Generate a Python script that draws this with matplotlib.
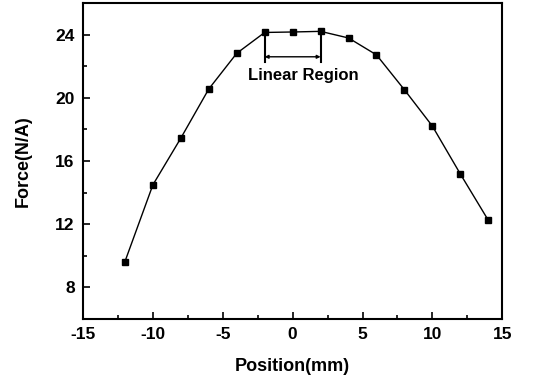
import matplotlib
matplotlib.use("Agg")
import matplotlib.pyplot as plt
from matplotlib.ticker import MultipleLocator

# Force vs. position data
position = [-12, -10, -8, -6, -4, -2, 0, 2, 4, 6, 8, 10, 12, 14]
force = [9.63, 14.49, 17.45, 20.56, 22.82, 24.14, 24.17, 24.21,
         23.79, 22.72, 20.51, 18.21, 15.18, 12.25]
x_ticks = [-15, -10, -5, 0, 5, 10, 15]
y_ticks = [8, 12, 16, 20, 24]
region_bounds = [-2, 2]

plt.rcParams['font.family'] = ['Liberation Sans', 'DejaVu Sans']
plt.rcParams['font.weight'] = 'bold'
plt.rcParams['axes.unicode_minus'] = False

fig = plt.figure(figsize=(5.34, 3.85), dpi=100)
ax = fig.add_axes([0.1554, 0.1714, 0.7852, 0.8206])

ax.plot(position, force, color='black', lw=1.0, marker='s', ms=5.0,
        mec='black', mfc='black')

ax.set_xlim(-15, 15)
ax.set_ylim(6, 26)
ax.set_xticks(x_ticks)
ax.set_yticks(y_ticks)
ax.xaxis.set_minor_locator(MultipleLocator(2.5))
ax.yaxis.set_minor_locator(MultipleLocator(2))
ax.tick_params(which='both', direction='in', top=False, right=False,
               width=1.2, pad=6)
ax.tick_params(which='major', length=5)
ax.tick_params(which='minor', length=3)
tick_font = dict(family=['Liberation Sans Narrow', 'Liberation Sans'],
                 weight='bold', size=12.5)
for lbl in ax.get_xticklabels() + ax.get_yticklabels():
    lbl.set_fontproperties(tick_font)
for sp in ax.spines.values():
    sp.set_linewidth(1.5)

ax.set_xlabel('Position(mm)', fontsize=13, fontweight='bold', labelpad=11)
ax.set_ylabel('Force(N/A)', fontsize=13, fontweight='bold', labelpad=17)

# Linear region marker
for xb in region_bounds:
    ax.plot([xb, xb], [force[position.index(xb)], 22.25], color='black', lw=1.5)
ax.annotate('', xy=(region_bounds[1], 22.6), xytext=(region_bounds[0], 22.6),
            arrowprops=dict(arrowstyle='<|-|>', color='black', lw=1.0,
                            mutation_scale=5, shrinkA=0, shrinkB=0))
ax.text(0.75, 21.4, 'Linear Region', ha='center', va='center',
        fontsize=12, fontweight='bold')

fig.savefig('out.png', dpi=100)
